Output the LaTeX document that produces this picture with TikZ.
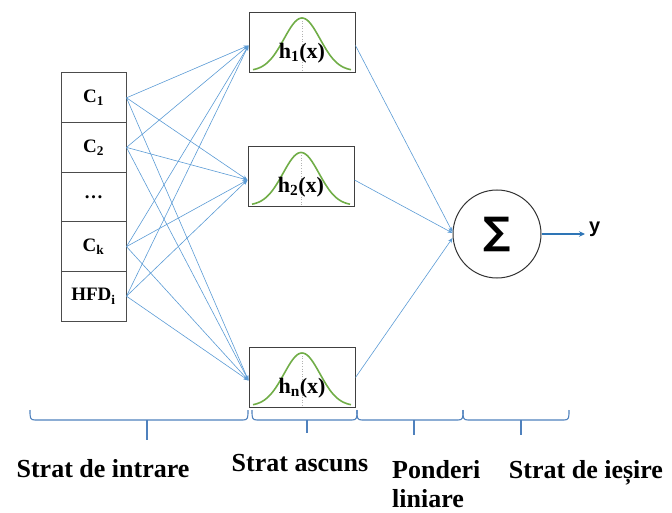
\documentclass[tikz,border=0pt]{standalone}
\usepackage{fontspec}
\setmainfont{Liberation Serif}
\newfontfamily\sumfont{DejaVu Sans}
\newfontfamily\yfont{Liberation Sans}
\usetikzlibrary{arrows.meta}
\definecolor{connc}{HTML}{5B9BD5}
\definecolor{brc}{HTML}{4F81BD}
\definecolor{gcurve}{HTML}{70AD47}
\definecolor{outb}{HTML}{2E75B6}
\newcommand\gausscurve[2]{%
  \draw[black!30, dotted, line width=0.6pt] (#1,#2-54) -- (#1,#2);
  \draw[gcurve, line width=1.6pt] plot[domain=-49:49, samples=71, smooth]
    ({#1+\x}, {#2-1-53*exp(-0.5*(\x/18)*(\x/18))});
}
\newcommand\bracedraw[4]{%
  \draw[brace] (#1,410) .. controls (#1,418) and (#1,420) .. (#1+5,420) -- (#2-5,420) .. controls (#2,420) and (#2,418) .. (#2,410);
  \draw[brace] (#3,420) -- (#3,#4);
}
\begin{document}
\begin{tikzpicture}[x=1pt,y=-1pt,
  cell/.style={draw=black!70, line width=1pt, minimum width=65pt, minimum height=49.6pt, inner sep=0pt, font=\fontsize{19}{20}\selectfont\bfseries},
  hbox/.style={draw=black!75, line width=1pt, minimum width=106pt, minimum height=60pt, inner sep=0pt},
  hlabel/.style={font=\fontsize{22}{22}\selectfont\bfseries, inner sep=0pt},
  conn/.style={draw=connc, line width=0.6pt, -{Stealth[length=5pt,width=4pt]}},
  brace/.style={draw=brc, line width=1.1pt},
  lbl/.style={font=\fontsize{26}{34}\selectfont\bfseries, inner sep=0pt}]
\useasboundingbox (0,0) rectangle (672,513);

% input column
\node[cell] (c1)  at (93.5,97.8)  {C\textsubscript{1}};
\node[cell] (c2)  at (93.5,147.4) {C\textsubscript{2}};
\node[cell] (cd)  at (93.5,197)   {…};
\node[cell] (ck)  at (93.5,246.6) {C\textsubscript{k}};
\node[cell] (hfd) at (93.5,296.2) {HFD\textsubscript{i}};

% hidden layer
\node[hbox] (h1) at (302,42.5) {};
\gausscurve{302}{72}
\node[hlabel] (l1) at (302,53) {h\textsubscript{1}(x)};
\node[hbox] (h2) at (301,177) {};
\gausscurve{301}{206.5}
\node[hlabel] (l2) at (301,187.5) {h\textsubscript{2}(x)};
\node[hbox] (hn) at (302,377.5) {};
\gausscurve{302}{407}
\node[hlabel] (ln) at (302,388) {h\textsubscript{n}(x)};

% sum
\node[circle, draw=black!80, line width=1pt, minimum size=88pt, inner sep=0pt] (sum) at (497,234) {\sumfont\bfseries\fontsize{38}{38}\selectfont ∑};

% connectors
\foreach \s in {c1,c2,ck,hfd}
  \foreach \t in {h1,h2,hn}
    \draw[conn] (\s.east) -- ([yshift=-3pt]\t.west);
\draw[conn] ([yshift=-3pt]h1.east) -- ([yshift=2pt]sum.west);
\draw[conn] ([yshift=-3pt]h2.east) -- ([yshift=1pt]sum.west);
\draw[conn] (hn.east) -- ([yshift=-4pt]sum.west);

% output
\coordinate (yend) at (585,234);
\draw[outb, line width=2.2pt, -{Stealth[length=6pt,width=5.5pt]}] (sum.east) -- (yend);
\node[font=\fontsize{20}{20}\selectfont\yfont\bfseries, anchor=west, inner sep=0pt] (ylbl) at (589,229) {y};

% braces
\bracedraw{30}{248}{147}{440}
\bracedraw{252}{357}{307}{433}
\bracedraw{357}{463}{414}{435}
\bracedraw{463}{569}{521}{435}

% labels
\node[lbl, anchor=base] (t1) at (103,477) {Strat de intrare};
\node[lbl, anchor=base] (t2) at (300,471) {Strat ascuns};
\node[lbl, anchor=base west] (t3a) at (392,478) {Ponderi};
\node[lbl, anchor=base west] (t3b) at (392,507) {liniare};
\node[lbl, anchor=base] (t4) at (586,478) {Strat de ieșire};
\end{tikzpicture}
\end{document}
